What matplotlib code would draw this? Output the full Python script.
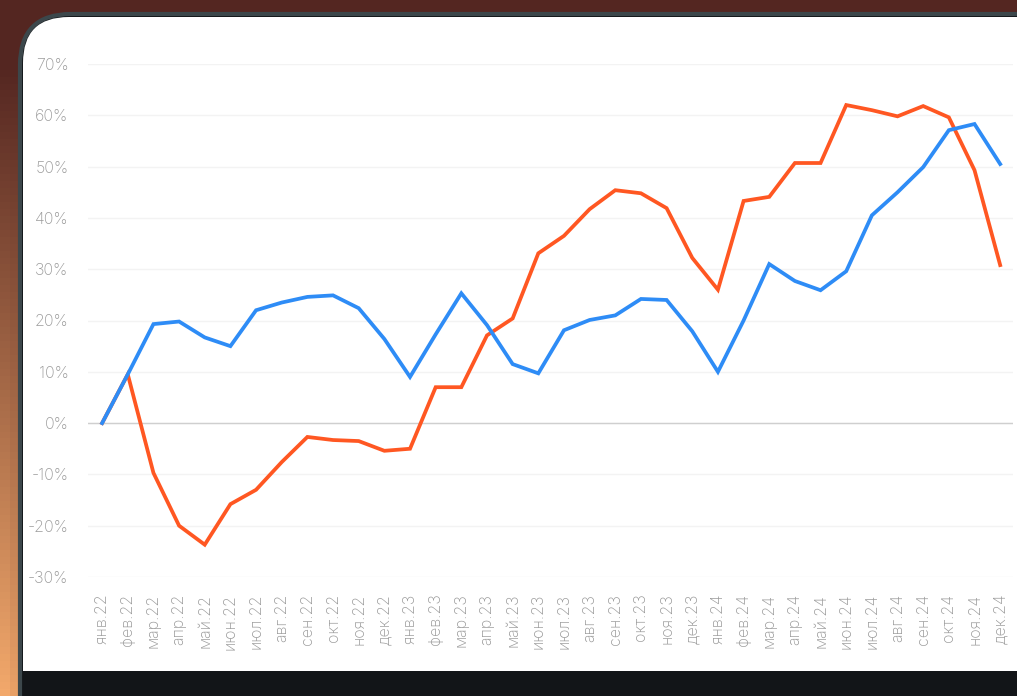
import matplotlib.pyplot as plt
import numpy as np
from matplotlib.patches import FancyBboxPatch, Rectangle

plt.rcParams['font.family'] = ['Inter', 'DejaVu Sans']

months = ['янв', 'фев', 'мар', 'апр', 'май', 'июн', 'июл', 'авг', 'сен', 'окт', 'ноя', 'дек']
labels = [m + '.' + y for y in ['22', '23', '24'] for m in months]

blue = [0, 9.5, 19.3, 19.8, 16.7, 15.0, 22.0, 23.5, 24.6, 24.9, 22.4, 16.4,
        9.0, 17.3, 25.3, 19.1, 11.5, 9.7, 18.1, 20.1, 21.0, 24.2, 24.0, 17.9,
        10.0, 20.0, 31.0, 27.7, 25.9, 29.6, 40.5, 45.0, 49.9, 57.1, 58.3, 50.5]
orange = [0, 9.5, -9.7, -20.0, -23.7, -15.8, -13.0, -7.6, -2.7, -3.3, -3.5, -5.4,
          -5.0, 7.0, 7.0, 17.1, 20.4, 33.1, 36.5, 41.7, 45.4, 44.8, 41.9, 32.2,
          26.0, 43.3, 44.1, 50.7, 50.7, 62.0, 61.0, 59.8, 61.8, 59.6, 49.3, 30.8]
yticks = [-30, -20, -10, 0, 10, 20, 30, 40, 50, 60, 70]

fig = plt.figure(figsize=(10.17, 6.96), dpi=100)

# background: brown / orange gradient
bg = fig.add_axes([0, 0, 1, 1])
bg.set_axis_off()
h, w = 100, 100
yy, xx = np.mgrid[0:1:h * 1j, 0:1:w * 1j]
top = np.array([0.33, 0.15, 0.13])
bot = np.array([0.95, 0.66, 0.42])
t = np.clip(yy * 1.1 - 0.1, 0, 1)[..., None] * np.clip(1 - xx * 6, 0, 1)[..., None]
img = top * (1 - t) + bot * t
bg.imshow(img, extent=[0, 1, 0, 1], aspect='auto', origin='upper', zorder=0)
bg.set_xlim(0, 1)
bg.set_ylim(0, 1)

# screen panel
bg.add_patch(FancyBboxPatch((20 / 1017, -0.3), 1.1, (696 - 14) / 696 + 0.3,
                            boxstyle='round,pad=0,rounding_size=0.05',
                            mutation_aspect=1017 / 696,
                            fc='#121518', ec='#3c474b', lw=3, zorder=1))
bg.add_patch(FancyBboxPatch((23 / 1017, 25 / 696), 1.1, (696 - 17 - 25) / 696,
                            boxstyle='round,pad=0,rounding_size=0.045',
                            mutation_aspect=1017 / 696,
                            fc='white', ec='none', zorder=2))
bg.add_patch(Rectangle((23 / 1017, 25 / 696), 1.1, 0.2, fc='white', ec='none', zorder=2))

ax = fig.add_axes([88 / 1017, 1 - 577 / 696, (1013 - 88) / 1017, (577 - 64) / 696])
ax.set_facecolor('none')
x = np.arange(len(labels))
ax.plot(x, orange, color='#ff5722', lw=2.7, solid_joinstyle='miter', zorder=3)
ax.plot(x, blue, color='#2e8cf6', lw=2.7, solid_joinstyle='miter', zorder=4)

ax.set_xlim(-0.55, 35.5)
ax.set_ylim(-30, 70)
ax.set_yticks(yticks)
ax.set_yticklabels([f'{v}%' for v in yticks])
ax.set_xticks(x)
ax.set_xticklabels(labels, rotation=90)
ax.tick_params(axis='both', length=0, colors='#9a9a9a', labelsize=11.5)
ax.tick_params(axis='x', pad=12)
ax.tick_params(axis='y', pad=14)
for lab in ax.get_yticklabels() + ax.get_xticklabels():
    lab.set_fontweight('light')
for s in ax.spines.values():
    s.set_visible(False)
ax.grid(axis='y', color='#f3f3f3', lw=1)
ax.axhline(0, color='#cfcfcf', lw=1, zorder=2)

fig.savefig('out.png', dpi=100)
